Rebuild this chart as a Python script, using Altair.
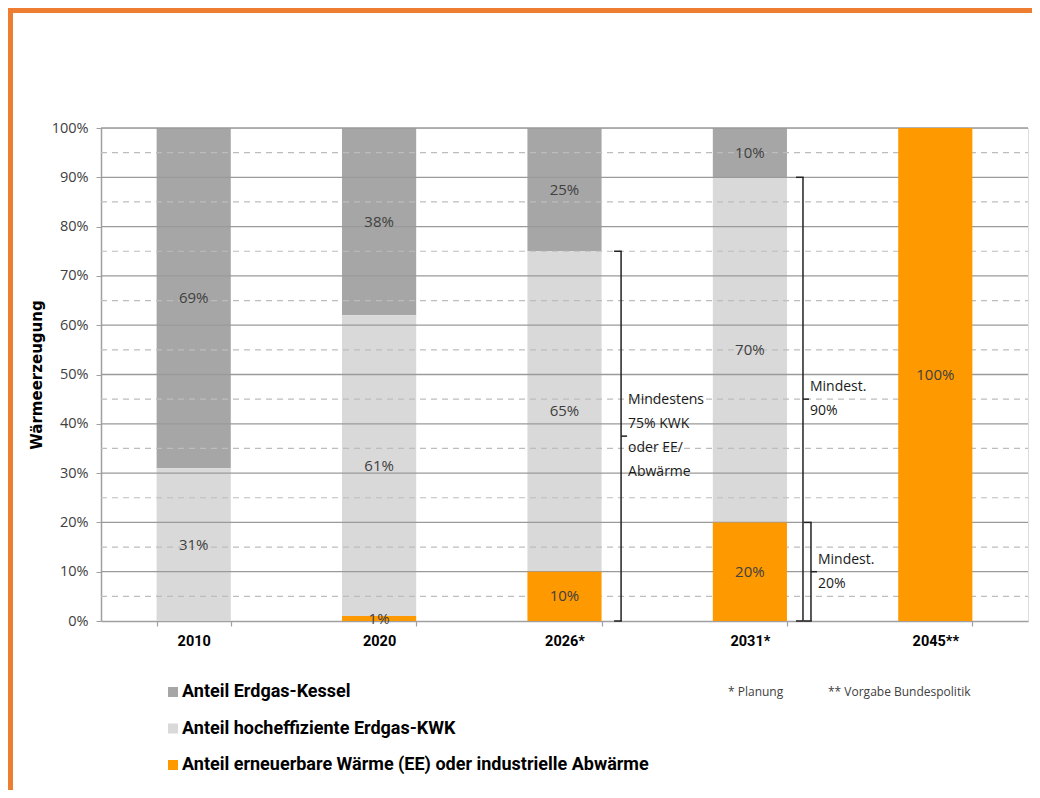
import altair as alt
import pandas as pd

# ---------------- data ----------------
categories = ["2010", "2020", "2026*", "2031*", "2045**"]
series = ["Anteil Erdgas-Kessel", "Anteil hocheffiziente Erdgas-KWK",
          "Anteil erneuerbare Wärme (EE) oder industrielle Abwärme"]
kessel = [69, 38, 25, 10, 0]
kwk = [31, 61, 65, 70, 0]
ee = [0, 1, 10, 20, 100]

grid_solid = [10, 20, 30, 40, 50, 60, 70, 80, 90, 100]
grid_dashed = [5, 15, 25, 35, 45, 55, 65, 75, 85, 95]
y_ticks = [0, 10, 20, 30, 40, 50, 60, 70, 80, 90, 100]

bracket_cat = ["2026*", "2031*", "2031*"]
bracket_lo = [0, 0, 0]
bracket_hi = [75, 90, 20]
bracket_text = ["Mindestens\n75% KWK\noder EE/\nAbwärme", "Mindest.\n90%", "Mindest.\n20%"]

footnotes = ["* Planung", "** Vorgabe Bundespolitik"]

# ---------------- styles ----------------
W, H = 927, 493
COLORS = ["#a6a6a6", "#d9d9d9", "#ff9900"]
BRACE_GAP = [19.5, 16, 24]   # pixel gap from bar's right edge to the brace
LINE_H = 24
BODY_FONT = "Open Sans"
BOLD_FONT = "Roboto"

rows = []
for i, c in enumerate(categories):
    for k, (s, vals) in enumerate(zip(series, [kessel, kwk, ee])):
        rows.append({"cat": c, "series": s, "value": vals[i], "order": 2 - k})
df = pd.DataFrame(rows)

x_enc = alt.X("cat:N", sort=categories, title=None,
              scale=alt.Scale(paddingInner=0.6, paddingOuter=0.3),
              axis=alt.Axis(labelAngle=0, tickBand="extent", labelFont=BOLD_FONT,
                            labelFontWeight="bold", labelFontSize=14.5, labelColor="#000000",
                            labelPadding=8, tickSize=5, domainColor="#a0a0a0",
                            tickColor="#a0a0a0", domainWidth=1.5, tickWidth=1.2))
y_scale = alt.Scale(domain=[0, 100], nice=False)
color_enc = alt.Color("series:N", sort=series,
                      scale=alt.Scale(domain=series, range=COLORS),
                      legend=alt.Legend(title=None, orient="none", legendX=63, legendY=555,
                                        symbolType="square", symbolSize=100,
                                        symbolStrokeWidth=0, labelFont=BOLD_FONT,
                                        labelFontWeight="bold", labelFontSize=18,
                                        labelColor="#000000", rowPadding=18.5,
                                        labelOffset=0, padding=0, labelLimit=700))

base = alt.Chart(df).transform_stack(
    stack="value", groupby=["cat"], as_=["y0", "y1"],
    sort=[alt.SortField("order", order="ascending")]
).transform_calculate(mid="(datum.y0 + datum.y1) / 2")

gray_bars = base.transform_filter(f"datum.series != '{series[2]}'").mark_bar().encode(
    x=x_enc,
    y=alt.Y("y0:Q", scale=y_scale, title="Wärmeerzeugung",
            axis=alt.Axis(values=y_ticks, labelExpr="datum.value + '%'", grid=False,
                          labelFont=BODY_FONT, labelFontSize=14.5, labelColor="#404040",
                          labelPadding=8, tickSize=5, domainColor="#a0a0a0",
                          tickColor="#a0a0a0", domainWidth=1.5,
                          titleFont="DejaVu Sans", titleFontWeight="bold",
                          titleFontSize=15, titleColor="#000000", titlePadding=7)),
    y2="y1:Q",
    color=color_enc,
)

solid = alt.Chart(pd.DataFrame({"g": grid_solid})).mark_rule(
    color="#9a9a9a", strokeWidth=1.3).encode(
    y=alt.Y("g:Q", scale=y_scale), x=alt.value(0), x2=alt.value(W))
dashed = alt.Chart(pd.DataFrame({"g": grid_dashed})).mark_rule(
    color="#bdbdbd", strokeWidth=1.2, strokeDash=[6, 5]).encode(
    y=alt.Y("g:Q", scale=y_scale), x=alt.value(0), x2=alt.value(W))

orange_bars = base.transform_filter(f"datum.series == '{series[2]}'").mark_bar().encode(
    x=x_enc, y=alt.Y("y0:Q", scale=y_scale), y2="y1:Q", color=color_enc)

labels = base.transform_filter("datum.value > 0").transform_calculate(
    lbl="datum.value + '%'").mark_text(
    font=BODY_FONT, fontSize=15, color="#404040", baseline="middle").encode(
    x=x_enc, y=alt.Y("mid:Q", scale=y_scale), text="lbl:N")

layers = [gray_bars, solid, dashed, orange_bars, labels]

for i in range(len(bracket_cat)):
    d = BRACE_GAP[i]
    c, lo, hi = bracket_cat[i], bracket_lo[i], bracket_hi[i]
    n_lines = bracket_text[i].count("\n") + 1
    xb = alt.X("cat:N", sort=categories, bandPosition=1)
    x2b = alt.X2("cat", bandPosition=1)
    vert = alt.Chart(pd.DataFrame({"cat": [c], "lo": [lo], "hi": [hi]})).mark_rule(
        color="#222222", strokeWidth=1.5, xOffset=d).encode(
        x=xb, y=alt.Y("lo:Q", scale=y_scale), y2="hi:Q")
    stubs = alt.Chart(pd.DataFrame({"cat": [c, c], "yv": [lo, hi]})).mark_rule(
        color="#222222", strokeWidth=1.5, xOffset=d + 0.75, x2Offset=d - 7).encode(
        x=xb, x2=x2b, y=alt.Y("yv:Q", scale=y_scale))
    mid = (lo + hi) / 2
    notch = alt.Chart(pd.DataFrame({"cat": [c], "yv": [mid]})).mark_rule(
        color="#222222", strokeWidth=1.5, xOffset=d, x2Offset=d + 6).encode(
        x=xb, x2=x2b, y=alt.Y("yv:Q", scale=y_scale))
    txt = alt.Chart(pd.DataFrame({"cat": [c], "yv": [mid], "t": [bracket_text[i]]})).mark_text(
        align="left", baseline="middle", dx=d + 7, dy=-(n_lines - 1) * LINE_H / 2,
        lineBreak="\n", lineHeight=LINE_H,
        font=BODY_FONT, fontSize=14, color="#1a1a1a").encode(
        x=xb, y=alt.Y("yv:Q", scale=y_scale), text="t:N")
    layers += [vert, stubs, notch, txt]

one = pd.DataFrame({"k": [0]})
foot1 = alt.Chart(one).mark_text(align="left", baseline="middle", font=BODY_FONT,
                                 fontSize=12, color="#404040").encode(
    x=alt.value(627), y=alt.value(564), text=alt.value(footnotes[0]))
foot2 = alt.Chart(one).mark_text(align="left", baseline="middle", font=BODY_FONT,
                                 fontSize=12, color="#404040").encode(
    x=alt.value(727), y=alt.value(564), text=alt.value(footnotes[1]))
frame_top = alt.Chart(one).mark_rule(color="#ed7d31", strokeWidth=5).encode(
    x=alt.value(-93), x2=alt.value(W + 4), y=alt.value(-117.5))
frame_left = alt.Chart(one).mark_rule(color="#ed7d31", strokeWidth=5).encode(
    x=alt.value(-90.5), y=alt.value(-120), y2=alt.value(H + 169))
layers += [foot1, foot2, frame_top, frame_left]

chart = alt.layer(*layers).properties(
    width=W, height=H,
    padding={"left": 93, "top": 120, "right": 4, "bottom": 169},
    autosize=alt.AutoSizeParams(type="none"),
).configure_view(stroke=None).configure(background="white")

chart.save("out.html", embed_options={"renderer": "svg", "actions": False})
